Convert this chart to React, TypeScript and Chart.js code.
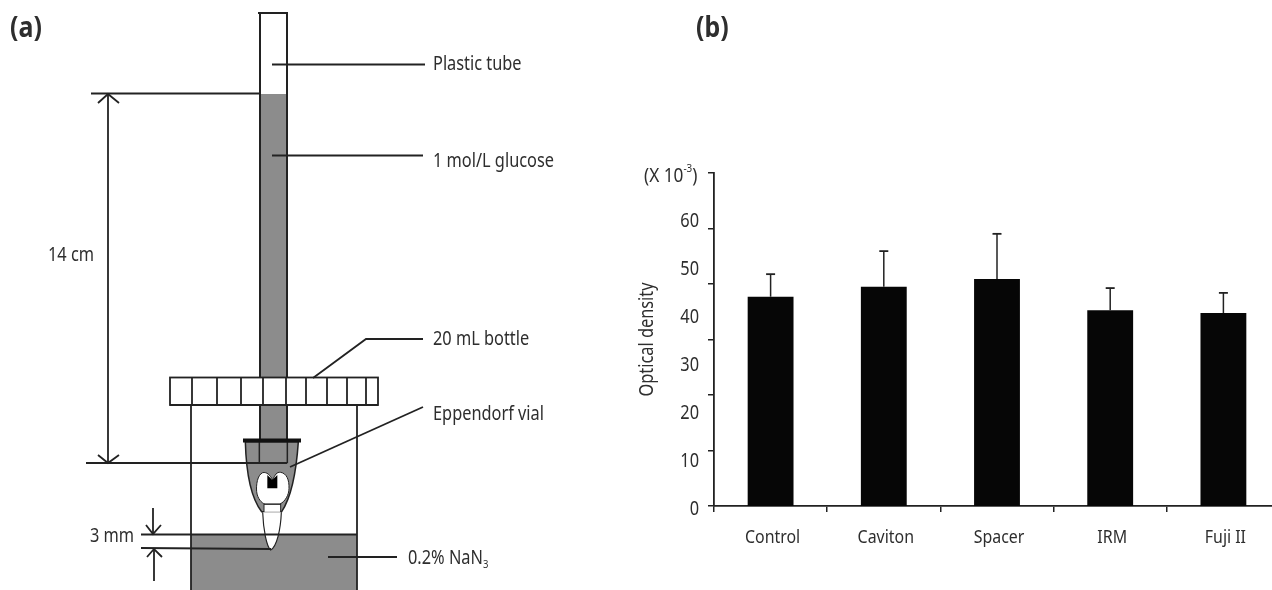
import React, { useEffect, useRef } from "react";
import { Chart, registerables } from "chart.js";

Chart.register(...registerables);

const categories = ["Control", "Caviton", "Spacer", "IRM", "Fuji II"];
const meanValues = [43.6, 45.7, 47.3, 40.8, 40.2];
const errorTops = [48.3, 53.1, 56.7, 45.4, 44.4];
const yTickLabels = [0, 10, 20, 30, 40, 50, 60];
const axisMarks = [0, 1, 2, 3, 4, 5, 6];
const capDividers = [192, 217, 241, 263, 286, 306, 327, 347, 366];

const FONT = '"Noto Sans", sans-serif';
const INK = "#222222";
const TEXT = "#2e2e2e";
const GREY = "#8c8c8c";
const TEXT_SQUEEZE = 0.86;

function line(ctx: CanvasRenderingContext2D, pts: number[][], w = 1.8, c = INK) {
  ctx.beginPath();
  ctx.strokeStyle = c;
  ctx.lineWidth = w;
  pts.forEach((p, i) => (i ? ctx.lineTo(p[0], p[1]) : ctx.moveTo(p[0], p[1])));
  ctx.stroke();
}

function label(ctx: CanvasRenderingContext2D, t: string, x: number, y: number, size = 19, weight = "") {
  ctx.font = `${weight} ${size}px ${FONT}`;
  ctx.fillStyle = TEXT;
  ctx.textAlign = "left";
  ctx.textBaseline = "middle";
  ctx.fillText(t, x, y);
  return ctx.measureText(t).width * TEXT_SQUEEZE;
}

function drawDiagram(ctx: CanvasRenderingContext2D) {
  ctx.save();
  ctx.lineCap = "butt";
  ctx.fillStyle = "#ffffff";
  ctx.fillRect(0, 0, 1300, 590);

  // bottle and liquid
  ctx.fillStyle = GREY;
  ctx.fillRect(191, 534, 166, 56);
  line(ctx, [[191, 405], [191, 590]]);
  line(ctx, [[357, 405], [357, 590]]);

  // tube
  ctx.fillStyle = GREY;
  ctx.fillRect(260, 94, 27, 284);
  ctx.fillRect(260, 405, 27, 36);
  line(ctx, [[258, 13], [288, 13]], 2);
  line(ctx, [[260, 13], [260, 378]], 2);
  line(ctx, [[287, 13], [287, 378]], 2);
  line(ctx, [[260, 405], [260, 440]], 2);
  line(ctx, [[287, 405], [287, 440]], 2);

  // cap
  ctx.fillStyle = "#ffffff";
  ctx.fillRect(170, 377.5, 208, 27.5);
  ctx.strokeStyle = INK;
  ctx.lineWidth = 1.8;
  ctx.strokeRect(170, 377.5, 208, 27.5);
  capDividers.forEach((x) => line(ctx, [[x, 377.5], [x, 405]]));
  line(ctx, [[170, 405], [378, 405]], 2.2);

  // vial, tooth, root (drawn in the 3x coordinates of the lower panel)
  ctx.save();
  ctx.translate(60, 360);
  ctx.scale(1 / 3, 1 / 3);
  ctx.lineWidth = 4.5;
  ctx.strokeStyle = INK;
  ctx.beginPath();
  ctx.moveTo(556, 245);
  ctx.bezierCurveTo(558, 320, 570, 410, 605, 455);
  ctx.lineTo(665, 455);
  ctx.bezierCurveTo(695, 410, 710, 320, 715, 245);
  ctx.closePath();
  ctx.fillStyle = GREY;
  ctx.fill();
  ctx.stroke();
  ctx.beginPath();
  ctx.moveTo(598, 245);
  ctx.lineTo(598, 310);
  ctx.moveTo(682, 245);
  ctx.lineTo(682, 310);
  ctx.stroke();

  ctx.beginPath();
  ctx.moveTo(638, 360);
  ctx.bezierCurveTo(630, 345, 620, 335, 608, 338);
  ctx.bezierCurveTo(592, 345, 588, 375, 590, 395);
  ctx.bezierCurveTo(592, 415, 605, 430, 615, 432);
  ctx.lineTo(660, 432);
  ctx.bezierCurveTo(675, 425, 687, 405, 687, 385);
  ctx.bezierCurveTo(688, 360, 680, 340, 662, 337);
  ctx.bezierCurveTo(650, 335, 645, 345, 638, 360);
  ctx.closePath();
  ctx.fillStyle = "#ffffff";
  ctx.fill();
  ctx.lineWidth = 3;
  ctx.stroke();

  ctx.beginPath();
  ctx.moveTo(622, 345);
  ctx.lineTo(637, 360);
  ctx.lineTo(652, 345);
  ctx.lineTo(652, 385);
  ctx.lineTo(622, 385);
  ctx.closePath();
  ctx.fillStyle = "#000000";
  ctx.fill();

  ctx.fillStyle = "#ffffff";
  ctx.fillRect(612, 433, 50, 24);
  ctx.lineWidth = 3;
  ctx.strokeRect(612, 433, 50, 24);

  ctx.beginPath();
  ctx.moveTo(608, 457);
  ctx.bezierCurveTo(610, 510, 620, 560, 632, 570);
  ctx.bezierCurveTo(650, 560, 662, 510, 664, 457);
  ctx.fillStyle = "#ffffff";
  ctx.fill();
  ctx.lineWidth = 3.5;
  ctx.stroke();
  ctx.restore();

  // thick seal
  ctx.fillStyle = "#111111";
  ctx.fillRect(243, 438.5, 58, 4);

  // dimensions
  line(ctx, [[91, 93.5], [260, 93.5]]);
  line(ctx, [[86, 463], [287, 463]]);
  line(ctx, [[108, 94], [108, 463]]);
  line(ctx, [[98, 103], [108, 94], [119, 103]]);
  line(ctx, [[98, 455], [108, 463], [119, 455]]);
  line(ctx, [[141, 534.5], [357, 534.5]]);
  line(ctx, [[141, 548], [271, 549]]);
  line(ctx, [[153, 508], [153, 534]]);
  line(ctx, [[146, 525], [153, 534], [161, 525]]);
  line(ctx, [[154, 549], [154, 581]]);
  line(ctx, [[147, 557], [154, 549], [162, 557]]);

  // leaders
  line(ctx, [[272, 64.5], [425, 64.5]]);
  line(ctx, [[272, 155.5], [423, 155.5]]);
  line(ctx, [[313, 378], [366, 339], [423, 339]]);
  line(ctx, [[290, 467], [423, 407]]);
  line(ctx, [[328, 557], [397, 557]]);

  // labels
  label(ctx, "Plastic tube", 433, 64.5);
  label(ctx, "1 mol/L glucose", 433, 162);
  label(ctx, "20 mL bottle", 433, 339.5);
  label(ctx, "Eppendorf vial", 433, 415);
  const w = label(ctx, "0.2% NaN", 408, 559);
  label(ctx, "3", 408 + w, 565, 11);
  label(ctx, "14 cm", 48, 256);
  label(ctx, "3 mm", 90, 537);
  label(ctx, "(a)", 10, 29, 29, "bold");
  label(ctx, "(b)", 696, 29, 29, "bold");

  // unit above the axis
  const u = label(ctx, "(X 10", 644, 176, 20);
  const s = label(ctx, "-3", 644 + u, 169, 11.5);
  label(ctx, ")", 644 + u + s, 176, 20);
  ctx.restore();
}

const diagramPlugin = {
  id: "diagram",
  beforeDraw(chart: Chart) {
    drawDiagram(chart.ctx);
  },
};

const errorBarPlugin = {
  id: "errorBars",
  afterDatasetsDraw(chart: Chart) {
    const ctx = chart.ctx;
    const y = chart.scales.y;
    const bars = chart.getDatasetMeta(0).data;
    errorTops.forEach((top, i) => {
      const x = bars[i].x;
      const yTop = y.getPixelForValue(top);
      const yBase = y.getPixelForValue(meanValues[i]);
      line(ctx, [[x, yBase], [x, yTop]], 1.5);
      line(ctx, [[x - 4.5, yTop], [x + 4.5, yTop]], 1.8);
    });
  },
};

// The reference's type is a narrow face; squeeze every text run along its own baseline.
function squeezeText(ctx: CanvasRenderingContext2D) {
  const original = ctx.fillText.bind(ctx);
  ctx.fillText = (t: string, x: number, y: number) => {
    ctx.save();
    ctx.translate(x, y);
    ctx.scale(TEXT_SQUEEZE, 1);
    original(t, 0, 0);
    ctx.restore();
  };
}

export default function App() {
  const ref = useRef<HTMLCanvasElement>(null);
  useEffect(() => {
    squeezeText(ref.current!.getContext("2d")!);
    const chart = new Chart(ref.current!, {
      type: "bar",
      data: {
        labels: categories,
        datasets: [
          {
            data: meanValues,
            backgroundColor: "#060606",
            borderWidth: 0,
            barPercentage: 0.405,
            categoryPercentage: 1,
            yAxisID: "y",
          },
        ],
      },
      plugins: [diagramPlugin, errorBarPlugin],
      options: {
        animation: false,
        responsive: false,
        devicePixelRatio: 1,
        layout: { padding: { left: 636, top: 173, right: 20, bottom: 0 } },
        plugins: { legend: { display: false }, tooltip: { enabled: false } },
        scales: {
          x: {
            afterFit: (s: any) => {
              s.height = 84;
            },
            border: { color: INK, width: 1.8 },
            grid: { drawOnChartArea: false, tickLength: 6, color: INK, lineWidth: 1.5 },
            ticks: {
              padding: 15,
              labelOffset: 2,
              color: TEXT,
              font: { family: FONT, size: 18.5 },
              maxRotation: 0,
            },
          },
          marks: {
            position: "left",
            weight: 0,
            min: 0,
            max: 6,
            afterBuildTicks: (s: any) => {
              s.ticks = axisMarks.map((value) => ({ value }));
            },
            afterFit: (s: any) => {
              s.width = 6;
            },
            border: { color: INK, width: 1.8 },
            grid: { drawOnChartArea: false, tickLength: 6, color: INK, lineWidth: 1.5 },
            ticks: { display: false },
          },
          y: {
            position: "left",
            weight: 1,
            min: 0,
            max: 333 / 4.8,
            afterBuildTicks: (s: any) => {
              s.ticks = yTickLabels.map((value) => ({ value }));
            },
            afterFit: (s: any) => {
              s.width = 72;
            },
            border: { display: false },
            grid: { display: false, drawTicks: false },
            ticks: {
              padding: 9,
              labelOffset: 4,
              color: TEXT,
              font: { family: FONT, size: 19 },
            },
            title: {
              display: true,
              text: "Optical density",
              color: TEXT,
              font: { family: FONT, size: 19 },
              padding: 0,
            },
          },
        },
      } as any,
    });
    return () => chart.destroy();
  }, []);
  return (
    <div style={{ position: "fixed", left: 0, top: 0, width: 1272, height: 590, overflow: "hidden", background: "#fff" }}>
      <canvas ref={ref} width={1300} height={590} style={{ display: "block" }} />
    </div>
  );
}
